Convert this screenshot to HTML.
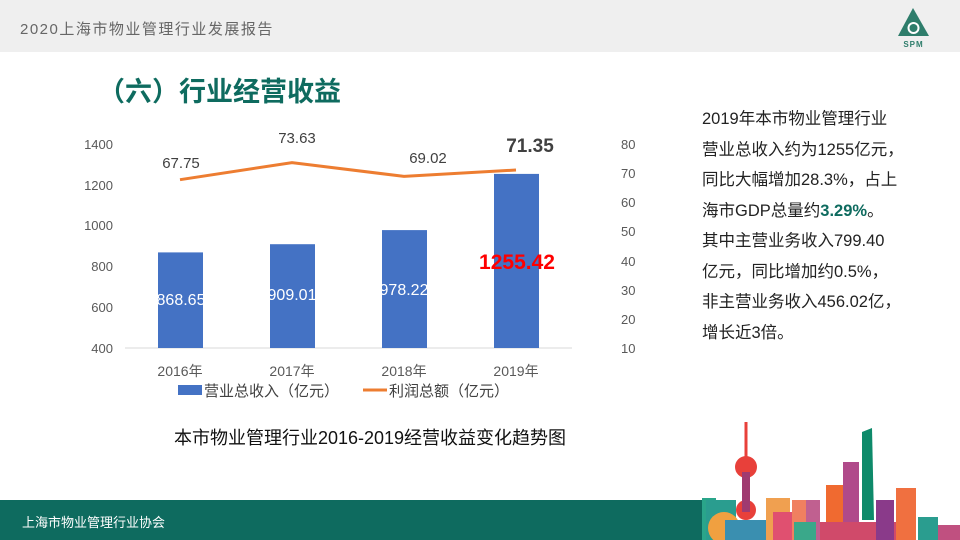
<!DOCTYPE html>
<html><head><meta charset="utf-8"><style>
body{margin:0;width:960px;height:540px;overflow:hidden;background:#fff;position:relative;font-family:"Liberation Sans","Noto Sans CJK SC",sans-serif}
.hdr{position:absolute;left:0;top:0;width:960px;height:52px;background:#efefef}
.hdr span{position:absolute;left:20px;top:18px;font-size:15px;color:#666;letter-spacing:1.5px}
.ft{position:absolute;left:0;top:500px;width:700px;height:40px;background:#0e6b5f}
.ft span{position:absolute;left:22px;top:12px;color:#fff;font-size:13px}
.title{position:absolute;left:98px;top:70px;font-size:27px;font-weight:bold;color:#0e6b5f}
.txt{position:absolute;left:702px;top:104px;font-size:16.5px;line-height:30.5px;color:#222;width:250px}
</style></head><body>
<div class="hdr"><span>2020上海市物业管理行业发展报告</span></div>
<svg style="position:absolute;left:895px;top:6px" width="40" height="44" viewBox="0 0 40 44">
<path d="M18 2 L34 30 L3 30 Z" fill="#2e7d6b"/><circle cx="18.5" cy="22" r="6" fill="#fff"/><circle cx="18.5" cy="22" r="4" fill="#2e7d6b"/>
<text x="18.5" y="41" font-size="8" text-anchor="middle" fill="#2e7d6b" font-family="Liberation Sans" font-weight="bold" letter-spacing="1">SPM</text></svg>
<div class="title">（六）行业经营收益</div>
<svg style="position:absolute;left:0;top:0" width="690" height="460" font-family="Liberation Sans, Noto Sans CJK SC, sans-serif">
<g font-size="13" fill="#595959" text-anchor="end">
<text x="113" y="149">1400</text><text x="113" y="190">1200</text><text x="113" y="230">1000</text><text x="113" y="271">800</text><text x="113" y="312">600</text><text x="113" y="353">400</text>
</g>
<g font-size="13" fill="#595959" text-anchor="start">
<text x="621" y="149">80</text><text x="621" y="178">70</text><text x="621" y="207">60</text><text x="621" y="236">50</text><text x="621" y="266">40</text><text x="621" y="295">30</text><text x="621" y="324">20</text><text x="621" y="353">10</text>
</g>
<line x1="125" y1="348" x2="572" y2="348" stroke="#d9d9d9" stroke-width="1"/>
<g fill="#4472c4">
<rect x="158" y="252.4" width="45" height="95.6"/><rect x="270" y="244.2" width="45" height="103.8"/><rect x="382" y="230.1" width="45" height="117.9"/><rect x="494" y="173.9" width="45" height="174.1"/>
</g>
<polyline points="180,179.7 292,162.6 404,176.4 516,170" fill="none" stroke="#ed7d31" stroke-width="3"/>
<g font-size="16" fill="#fff" text-anchor="middle">
<text x="181" y="305">868.65</text><text x="292" y="300">909.01</text><text x="404" y="295">978.22</text>
</g>
<text x="517" y="269" font-size="21" font-weight="bold" fill="#ff0000" text-anchor="middle">1255.42</text>
<g font-size="15" fill="#404040" text-anchor="middle">
<text x="181" y="168">67.75</text><text x="297" y="143">73.63</text><text x="428" y="163">69.02</text>
</g>
<text x="530" y="152" font-size="19" font-weight="bold" fill="#404040" text-anchor="middle">71.35</text>
<g font-size="14" fill="#595959" text-anchor="middle">
<text x="180" y="376">2016年</text><text x="292" y="376">2017年</text><text x="404" y="376">2018年</text><text x="516" y="376">2019年</text>
</g>
<rect x="178" y="385" width="24" height="10" fill="#4472c4"/>
<text x="204" y="396" font-size="15" fill="#404040">营业总收入（亿元）</text>
<line x1="363" y1="390" x2="387" y2="390" stroke="#ed7d31" stroke-width="3"/>
<text x="389" y="396" font-size="15" fill="#404040">利润总额（亿元）</text>
<text x="370" y="444" font-size="18" fill="#111" text-anchor="middle">本市物业管理行业2016-2019经营收益变化趋势图</text>
</svg>
<div class="txt">2019年本市物业管理行业<br>营业总收入约为1255亿元，<br>同比大幅增加28.3%，占上<br>海市GDP总量约<b style="color:#0e6b5f">3.29%</b>。<br>其中主营业务收入799.40<br>亿元，同比增加约0.5%，<br>非主营业务收入456.02亿，<br>增长近3倍。</div>
<div class="ft"><span>上海市物业管理行业协会</span></div>
<svg style="position:absolute;left:680px;top:410px" width="280" height="130">
<rect x="20" y="90" width="20" height="40" fill="#0e6b5f"/>
<rect x="22" y="88" width="14" height="42" fill="#2aa58a"/>
<rect x="26" y="90" width="30" height="40" fill="#2a9d8f"/>
<circle cx="44" cy="118" r="16" fill="#f0a040"/>
<rect x="45" y="110" width="48" height="20" fill="#3a8fb0"/>
<line x1="66" y1="12" x2="66" y2="100" stroke="#e8403a" stroke-width="3"/>
<circle cx="66" cy="57" r="11" fill="#e8403a"/><circle cx="66" cy="100" r="10" fill="#e8403a"/>
<rect x="62" y="62" width="8" height="40" fill="#a03a70"/>
<rect x="86" y="88" width="24" height="42" fill="#f0a050"/>
<rect x="93" y="102" width="20" height="28" fill="#e05070"/>
<rect x="112" y="90" width="14" height="40" fill="#f08060"/>
<rect x="126" y="90" width="14" height="40" fill="#c06090"/>
<rect x="114" y="112" width="22" height="18" fill="#3aa88a"/>
<rect x="146" y="75" width="22" height="55" fill="#f06a30"/>
<rect x="163" y="52" width="16" height="78" fill="#b04a8a"/>
<path d="M182 22 L192 18 L194 110 L182 110 Z" fill="#0e8a6a"/>
<rect x="140" y="112" width="80" height="18" fill="#d04a6a"/>
<rect x="196" y="90" width="18" height="40" fill="#8a3a8a"/>
<rect x="216" y="78" width="20" height="52" fill="#f07040"/>
<rect x="238" y="107" width="20" height="23" fill="#2a9d8f"/>
<rect x="258" y="115" width="22" height="15" fill="#c05080"/>
</svg>
</body></html>
